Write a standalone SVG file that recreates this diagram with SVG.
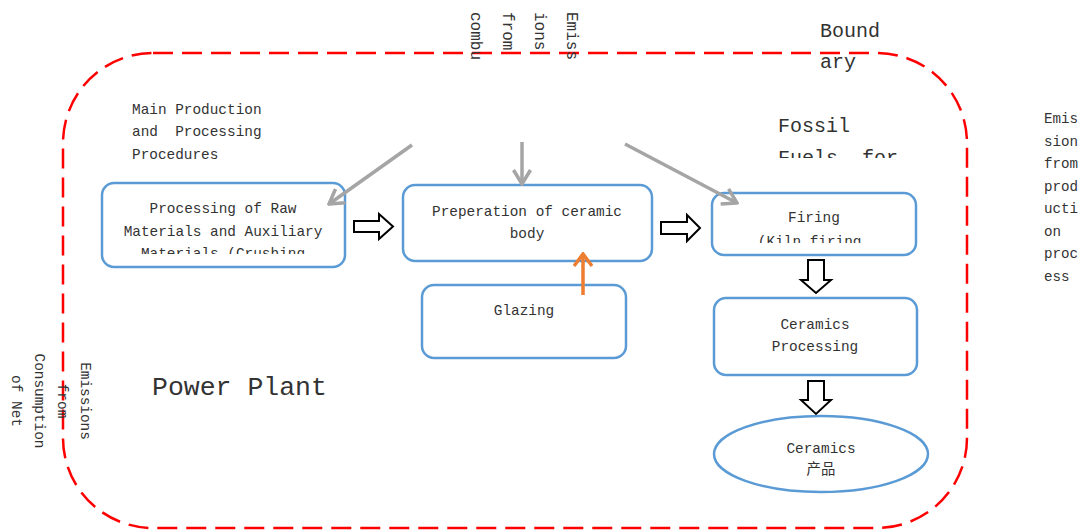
<svg xmlns="http://www.w3.org/2000/svg" width="1089" height="532" viewBox="0 0 1089 532">
<style>
  text { font-family: "Liberation Mono", "Noto Sans CJK SC", monospace; fill: #333; white-space: pre; }
  .t { font-size: 14.4px; }
  .c { text-anchor: middle; }
  .node { fill: #fff; stroke: #5B9BD5; stroke-width: 2.5; }
  .blk { fill: #fff; stroke: #000; stroke-width: 2; stroke-linejoin: miter; }
  .gray { stroke: #A5A5A5; stroke-width: 3.5; fill: none; }
  .orange { stroke: #ED7D31; stroke-width: 3.5; fill: none; }
</style>
<defs>
  <marker id="ag" markerUnits="userSpaceOnUse" viewBox="0 0 18 20" markerWidth="18" markerHeight="20" refX="16" refY="10" orient="auto">
    <path d="M2,1.5 L16,10 L2,18.5" fill="none" stroke="#A5A5A5" stroke-width="3.5"/>
  </marker>
  <marker id="ao" markerUnits="userSpaceOnUse" viewBox="0 0 16 20" markerWidth="16" markerHeight="20" refX="14" refY="10" orient="auto">
    <path d="M2,1 L14,10 L2,19" fill="none" stroke="#ED7D31" stroke-width="3.5"/>
  </marker>
  <clipPath id="c1"><rect x="100" y="180" width="250" height="74"/></clipPath>
  <clipPath id="c4"><rect x="710" y="190" width="210" height="53"/></clipPath>
  <clipPath id="cf"><rect x="760" y="100" width="200" height="58"/></clipPath>
</defs>

<rect id="boundary" x="63" y="53" width="904" height="475" rx="90" ry="90" fill="none" stroke="#FF0000" stroke-width="2.5" stroke-dasharray="20 9"/>

<g id="labels">
  <text x="820" y="37" style="font-size:20px">Bound</text>
  <text x="820" y="68" style="font-size:20px">ary</text>
  <text x="778" y="132" style="font-size:20px">Fossil</text>
  <text x="778" y="164" style="font-size:20px" clip-path="url(#cf)">Fuels  for</text>
  <text class="t" x="132" y="114">Main Production</text>
  <text class="t" x="132" y="136">and  Processing</text>
  <text class="t" x="132" y="159">Procedures</text>
  <text x="152" y="395" style="font-size:26.5px">Power Plant</text>
  <g class="t" style="font-size:14.2px">
    <text x="1044" y="123">Emis</text>
    <text x="1044" y="146">sion</text>
    <text x="1044" y="168">from</text>
    <text x="1044" y="191">prod</text>
    <text x="1044" y="213">ucti</text>
    <text x="1044" y="236">on</text>
    <text x="1044" y="258">proc</text>
    <text x="1044" y="281">ess</text>
  </g>
  <g style="font-size:16px">
    <text transform="translate(567,12) rotate(90)">Emiss</text>
    <text transform="translate(535,12) rotate(90)">ions</text>
    <text transform="translate(503,12) rotate(90)">from</text>
    <text transform="translate(471,12) rotate(90)">combu</text>
  </g>
  <g class="t c">
    <text transform="translate(81,401) rotate(90)">Emissions</text>
    <text transform="translate(58,401) rotate(90)">from</text>
    <text transform="translate(35,401) rotate(90)">Consumption</text>
    <text transform="translate(12,401) rotate(90)">of Net</text>
  </g>
</g>

<g id="n1">
  <rect class="node" x="102" y="183" width="243" height="84" rx="12"/>
  <g clip-path="url(#c1)">
    <text class="t c" x="223" y="213">Processing of Raw</text>
    <text class="t c" x="223" y="236">Materials and Auxiliary</text>
    <text class="t c" x="223" y="258">Materials (Crushing</text>
  </g>
</g>
<g id="n2">
  <rect class="node" x="403" y="185" width="249" height="76" rx="12"/>
  <text class="t c" x="527" y="216">Preperation of ceramic</text>
  <text class="t c" x="527" y="238">body</text>
</g>
<g id="n3">
  <rect class="node" x="422" y="285" width="204" height="73" rx="12"/>
  <text class="t c" x="524" y="315">Glazing</text>
</g>
<g id="n4">
  <rect class="node" x="712" y="193" width="204" height="62" rx="12"/>
  <text class="t c" x="814" y="222">Firing</text>
  <text class="t c" x="814" y="246" clip-path="url(#c4)">(Kiln firing,</text>
</g>
<g id="n5">
  <rect class="node" x="714" y="298" width="203" height="77" rx="12"/>
  <text class="t c" x="815" y="329">Ceramics</text>
  <text class="t c" x="815" y="351">Processing</text>
</g>
<g id="n6">
  <ellipse class="node" cx="821" cy="454" rx="107" ry="38"/>
  <text class="t c" x="821" y="453">Ceramics</text>
  <text class="t c" x="821" y="474">产品</text>
</g>

<g id="connectors">
  <line class="gray" x1="412" y1="145" x2="329" y2="204" marker-end="url(#ag)"/>
  <line class="gray" x1="522" y1="142" x2="522" y2="184" marker-end="url(#ag)"/>
  <line class="gray" x1="625" y1="144" x2="737" y2="203" marker-end="url(#ag)"/>
  <line class="orange" x1="583" y1="295" x2="583" y2="254" marker-end="url(#ao)"/>
  <polygon class="blk" points="354,221 379,221 379,214 393,226.5 379,239 379,232 354,232"/>
  <polygon class="blk" points="661,222 687,222 687,215 700,228 687,241 687,234 661,234"/>
  <polygon class="blk" points="808,260 824,260 824,280 831,280 816,293 801,280 808,280"/>
  <polygon class="blk" points="808,381 824,381 824,400 831,400 816,414 801,400 808,400"/>
</g>
</svg>
